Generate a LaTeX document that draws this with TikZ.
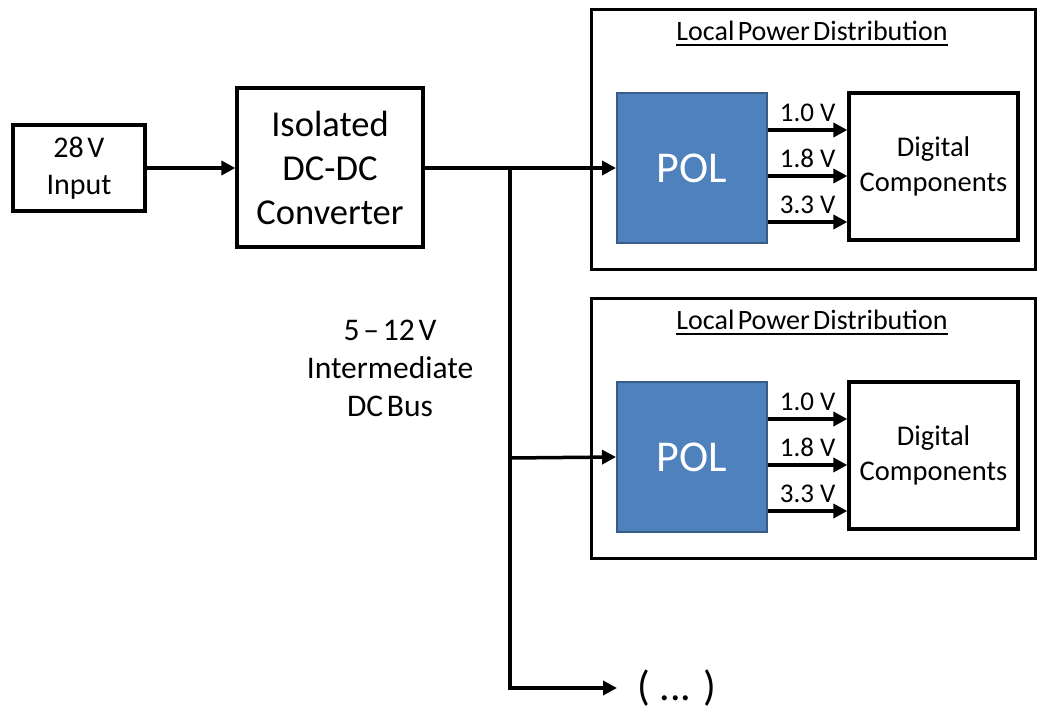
\documentclass[tikz,border=0pt]{standalone}
\usepackage{fontspec}
\setmainfont{Carlito}
\usetikzlibrary{arrows.meta,calc}
\definecolor{polblue}{HTML}{4F81BD}
\definecolor{poledge}{HTML}{385D8A}
\newcommand{\nsp}{\hspace{0.12em}}
\begin{document}
\begin{tikzpicture}[x=1pt,y=-1pt,
  box/.style={draw=black,line width=3.3pt,fill=white,inner sep=0pt,align=center},
  outerbox/.style={draw=black,line width=3pt,inner sep=0pt},
  polbox/.style={draw=poledge,line width=2pt,fill=polblue,text=white,inner sep=0pt,
    minimum width=150pt,minimum height=150pt,font=\fontsize{44}{52}\selectfont},
  arr/.style={line width=3.5pt,-{Triangle[length=14pt,width=14pt]}},
  bus/.style={line width=3.5pt},
  vlabel/.style={font=\fontsize{27}{32}\selectfont,inner sep=0pt,above=7pt}]
\useasboundingbox (0,0) rectangle (1037,708);

% source and isolated converter
\node[box,minimum width=132pt,minimum height=86pt,font=\fontsize{30}{37}\selectfont]
  (inp) at (79,168) {28\nsp V\\Input};
\node[box,minimum width=186pt,minimum height=159pt,font=\fontsize{36.5}{44}\selectfont]
  (conv) at (330,167.5) {Isolated\\DC-DC\\Converter};
\draw[arr] (inp.east) -- (conv.west |- inp.east);

% local power distribution blocks
\foreach \i/\dy in {1/0,2/289}{
  \node[outerbox,minimum width=444pt,minimum height=260pt] (outer\i) at (813,140+\dy) {};
  \node[font=\fontsize{28}{34}\selectfont,inner sep=0pt] (title\i) at (812,31+\dy)
    {Local\nsp Power\nsp Distribution};
  \draw[line width=2pt] ([yshift=-4pt]title\i.base west) -- ([yshift=-4pt]title\i.base east);
  \node[polbox] (pol\i) at (692,168+\dy) {POL};
  \node[box,minimum width=169pt,minimum height=147pt,font=\fontsize{28.5}{35}\selectfont]
    (dig\i) at (933.5,166.5+\dy) {Digital\\Components};
  \draw[arr] ([yshift=38pt]pol\i.east) -- ([yshift=38pt]pol\i.east -| dig\i.west)
    node[vlabel,midway] (va\i) {1.0 V};
  \draw[arr] ([yshift=-8pt]pol\i.east) -- ([yshift=-8pt]pol\i.east -| dig\i.west)
    node[vlabel,midway] (vb\i) {1.8 V};
  \draw[arr] ([yshift=-54pt]pol\i.east) -- ([yshift=-54pt]pol\i.east -| dig\i.west)
    node[vlabel,midway] (vc\i) {3.3 V};
}

% intermediate bus
\coordinate (j1) at (510,168);
\coordinate (j2) at (510,458);
\coordinate (j3) at (510,688);
\node[font=\fontsize{42}{50}\selectfont,anchor=west,inner xsep=20pt,inner ysep=0pt]
  (more) at (617,688) {( ... )};
\draw[arr] (conv.east |- j1) -- (pol1.west);
\draw[arr] (j2) -- (pol2.west);
\draw[bus] (j1) -- (j3);
\draw[arr] ([xshift=-1.75pt]j3) -- (more.west);

\node[font=\fontsize{31.5}{38}\selectfont,align=center] (buslabel) at (390,368)
  {5\nsp--\nsp12\nsp V\\Intermediate\\DC\nsp Bus};
\end{tikzpicture}
\end{document}
